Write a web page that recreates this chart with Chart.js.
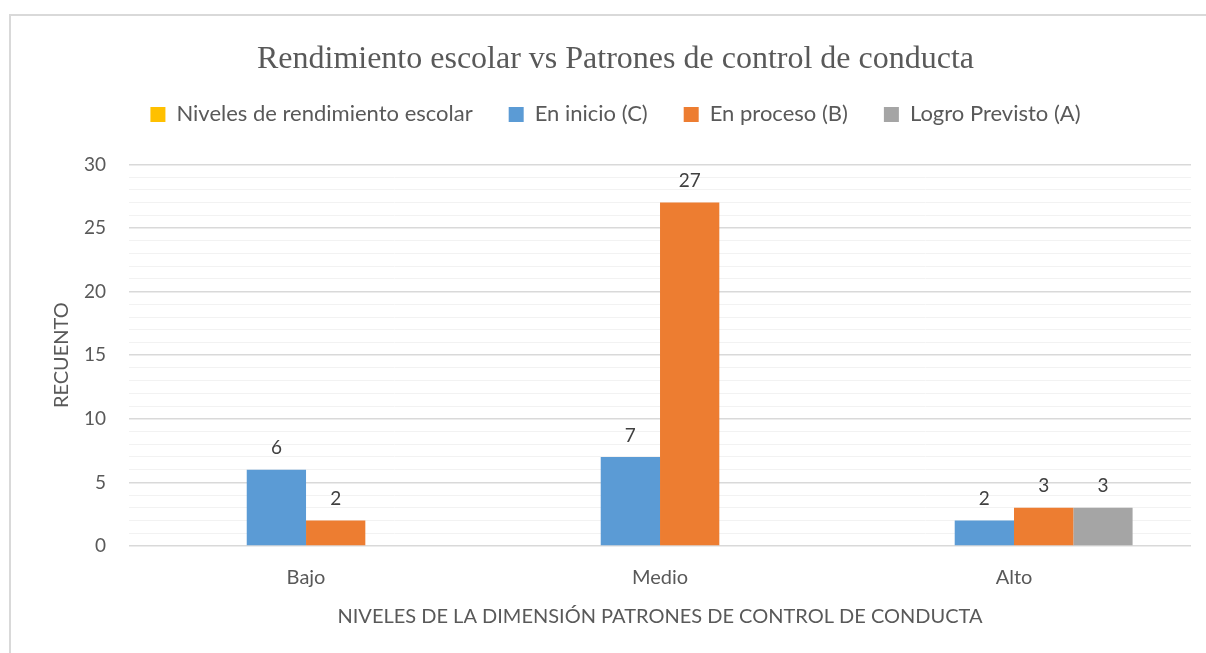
<!DOCTYPE html>
<html>
<head>
<meta charset="utf-8">
<script src="https://cdn.jsdelivr.net/npm/chart.js@4"></script>
<style>
  html, body { margin: 0; padding: 0; background: #fff; overflow: hidden; }
  #wrap { position: relative; width: 1206px; height: 653px; }
  #frame { position: absolute; left: 9px; top: 14px; width: 1220px; height: 700px;
           border: 2px solid #d9d9d9; box-sizing: border-box; pointer-events: none; }
  canvas { position: absolute; left: 0; top: 0; }
</style>
</head>
<body>
<div id="wrap">
  <canvas id="chart" width="1206" height="653"></canvas>
  <div id="frame"></div>
</div>
<script>
// Data
const categories = ['Bajo', 'Medio', 'Alto'];
const seriesNames = ['Niveles de rendimiento escolar', 'En inicio (C)', 'En proceso (B)', 'Logro Previsto (A)'];
const nivelesValues = [null, null, null];
const inicioValues = [6, 7, 2];
const procesoValues = [2, 27, 3];
const logroValues = [null, null, 3];
const seriesColors = ['#ffc000', '#5b9bd5', '#ed7d31', '#a5a5a5'];

const textColor = '#595959';

// Draws the value above each bar
const valueLabels = {
  id: 'valueLabels',
  afterDatasetsDraw(chart) {
    const ctx = chart.ctx;
    ctx.save();
    ctx.font = '19px Lato';
    ctx.fillStyle = '#404040';
    ctx.textAlign = 'center';
    ctx.textBaseline = 'bottom';
    chart.data.datasets.forEach(function(ds, i) {
      const meta = chart.getDatasetMeta(i);
      meta.data.forEach(function(bar, j) {
        const v = ds.data[j];
        if (v === null || v === undefined) return;
        ctx.fillText(String(v), bar.x, bar.y - 12);
      });
    });
    ctx.restore();
  }
};

// Extra room between the legend and the plot
const legendGap = {
  id: 'legendGap',
  beforeInit(chart) {
    const fit = chart.legend.fit;
    chart.legend.fit = function() {
      fit.bind(chart.legend)();
      this.height += 29;
    };
  }
};

const allValues = [nivelesValues, inicioValues, procesoValues, logroValues];

const chart = new Chart(document.getElementById('chart').getContext('2d'), {
  type: 'bar',
  data: {
    labels: categories,
    datasets: seriesNames.map(function(name, i) {
      return {
        label: name,
        data: allValues[i],
        backgroundColor: seriesColors[i],
        borderWidth: 0,
        categoryPercentage: 0.67,
        barPercentage: 1.0
      };
    })
  },
  options: {
    responsive: false,
    animation: false,
    layout: { padding: { left: 40, right: 15, top: 20, bottom: 24 } },
    plugins: {
      title: {
        display: true,
        text: 'Rendimiento escolar vs Patrones de control de conducta',
        color: textColor,
        font: { family: 'Liberation Serif', size: 32, weight: 'normal' },
        padding: { top: 20, bottom: -11 }
      },
      legend: {
        display: true,
        position: 'top',
        labels: {
          color: textColor,
          font: { family: 'Lato', size: 22 },
          boxWidth: 15,
          boxHeight: 15,
          padding: 36
        }
      },
      tooltip: { enabled: false }
    },
    scales: {
      x: {
        grid: { display: false, drawTicks: false },
        border: { display: false },
        ticks: { color: textColor, font: { family: 'Lato', size: 20 }, padding: 20 },
        title: {
          display: true,
          text: 'NIVELES DE LA DIMENSIÓN PATRONES DE CONTROL DE CONDUCTA',
          color: textColor,
          font: { family: 'Lato', size: 20 },
          padding: { top: -5, bottom: 0 }
        }
      },
      y: {
        min: 0,
        max: 30,
        border: { display: false },
        grid: {
          drawTicks: false,
          lineWidth: function(ctx) { return ctx.tick && ctx.tick.value % 5 === 0 ? 1.5 : 1; },
          color: function(ctx) { return ctx.tick && ctx.tick.value % 5 === 0 ? '#d9d9d9' : '#f2f2f2'; }
        },
        ticks: {
          stepSize: 1,
          autoSkip: false,
          color: textColor,
          font: { family: 'Lato', size: 19 },
          padding: 23,
          callback: function(v) { return v % 5 === 0 ? v : ''; }
        },
        title: {
          display: true,
          text: 'RECUENTO',
          color: textColor,
          font: { family: 'Lato', size: 20 },
          padding: { top: 10, bottom: -13 }
        }
      }
    }
  },
  plugins: [valueLabels, legendGap]
});
</script>
</body>
</html>
